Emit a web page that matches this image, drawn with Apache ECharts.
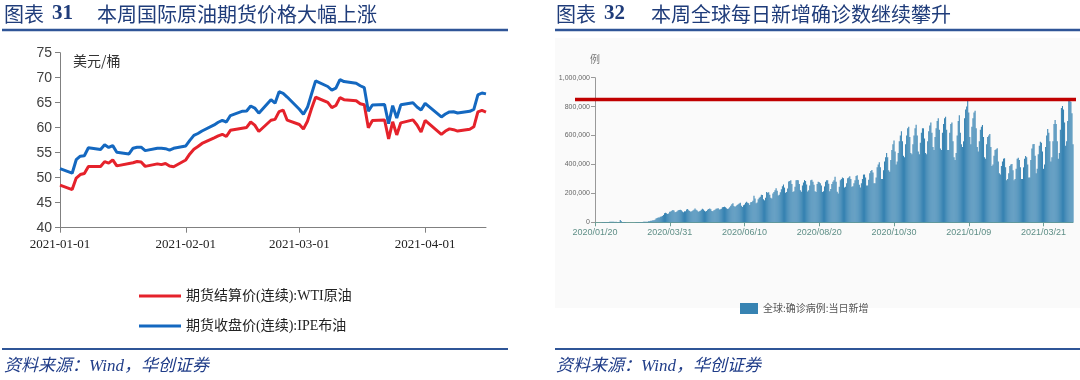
<!DOCTYPE html>
<html><head><meta charset="utf-8">
<script src="https://cdn.jsdelivr.net/npm/echarts@6/dist/echarts.min.js"></script>
<style>html,body{margin:0;padding:0;background:#fff}#c{width:1080px;height:380px}</style>
</head><body><div id="c"></div>
<script>
// ---------- Left chart: oil futures (USD/bbl) ----------
const oilDates = [
 '2021-01-01','2021-01-04','2021-01-05','2021-01-06','2021-01-07','2021-01-08','2021-01-11','2021-01-12','2021-01-13','2021-01-14','2021-01-15','2021-01-18','2021-01-19','2021-01-20','2021-01-21','2021-01-22','2021-01-25','2021-01-26','2021-01-27','2021-01-28','2021-01-29',
 '2021-02-01','2021-02-02','2021-02-03','2021-02-04','2021-02-05','2021-02-08','2021-02-09','2021-02-10','2021-02-11','2021-02-12','2021-02-15','2021-02-16','2021-02-17','2021-02-18','2021-02-19','2021-02-22','2021-02-23','2021-02-24','2021-02-25','2021-02-26',
 '2021-03-01','2021-03-02','2021-03-03','2021-03-04','2021-03-05','2021-03-08','2021-03-09','2021-03-10','2021-03-11','2021-03-12','2021-03-15','2021-03-16','2021-03-17','2021-03-18','2021-03-19','2021-03-22','2021-03-23','2021-03-24','2021-03-25','2021-03-26','2021-03-29','2021-03-30','2021-03-31',
 '2021-04-01','2021-04-05','2021-04-06','2021-04-07','2021-04-08','2021-04-09','2021-04-12','2021-04-13','2021-04-14','2021-04-15','2021-04-16'
];
const wtiSettle = [
 48.52,47.62,49.93,50.63,50.83,52.24,52.25,53.21,52.91,53.57,52.36,null,52.98,53.24,53.13,52.27,52.77,52.61,52.85,52.34,52.20,
 53.55,54.76,55.69,56.23,56.85,57.97,58.36,58.68,58.24,59.47,null,60.05,61.14,60.52,59.24,61.49,61.67,63.22,63.53,61.50,
 60.64,59.75,61.28,63.83,66.09,65.05,64.01,64.44,66.02,65.61,65.39,64.80,64.60,60.00,61.42,61.55,57.76,61.18,58.56,60.97,61.56,60.55,59.16,
 61.45,58.65,59.33,59.77,59.60,59.32,59.70,60.18,63.15,63.46,63.13
];
const brentClose = [
 51.80,50.90,53.60,54.30,54.38,55.99,55.66,56.58,56.06,56.42,55.10,54.75,55.90,56.08,56.10,55.41,55.88,55.91,55.81,55.53,55.88,
 56.35,57.46,58.46,58.84,59.34,60.56,61.09,61.47,61.14,62.43,63.30,63.35,64.34,63.93,62.91,65.60,64.90,67.20,66.88,66.13,
 63.69,62.70,64.07,66.74,69.36,68.24,67.52,67.90,69.63,69.22,68.88,68.39,68.00,63.28,64.53,64.62,60.79,64.41,61.95,64.57,64.98,64.14,63.54,
 64.86,62.15,62.74,63.16,63.20,62.95,63.28,63.67,66.58,66.94,66.77
];
const wtiName = '期货结算价(连续):WTI原油';
const brentName = '期货收盘价(连续):IPE布油';

// ---------- Right chart: global daily new confirmed cases ----------
const covidStart = [2020, 0, 20];   // 2020/01/20, one value per day
const covidDailyThousand = [
 0.08,0.15,0.13,0.26,0.44,0.69,0.77,
 1.8,1.5,2.0,1.7,2.0,2.1,2.6,
 3.2,3.9,3.7,3.2,3.4,2.7,3.0,
 2.5,2.0,2.0,15.1,6.5,2.6,2.1,
 2.0,1.9,0.5,0.6,1.0,0.6,0.6,
 0.6,0.9,0.9,1.2,1.4,1.8,1.9,
 2.0,2.3,2.7,2.9,3.8,4.0,3.9,
 4.0,4.6,6.9,7.5,9.9,11.0,13.5,
 15.0,17.6,25.8,29.0,33.0,32.4,38.9,
 39.9,43.0,50.6,62.9,66.0,62.5,58.0,
 61.2,72.3,74.4,80.0,84.8,80.8,70.1,
 71.5,76.1,82.6,85.6,87.0,84.0,75.0,
 70,76,77,88,92,83,78,
 73,77,82,86,96,86,82,
 73,76,80,87,94,88,80,
 75,79,87,92,96,90,79,
 77,83,87,94,96,97,89,
 90,94,104,106,108,104,98,
 92,96,104,114,124,131,112,
 106,112,120,124,130,135,115,
 105,118,123,136,142,136,131,
 120,139,140,149,183,165,131,
 137,160,170,177,190,188,160,
 152,170,210,204,208,190,170,
 165,200,210,222,236,218,186,
 190,208,228,249,262,240,205,
 210,233,282,285,290,265,210,
 215,245,290,292,290,265,222,
 212,255,275,292,286,262,213,
 222,254,290,295,280,260,215,
 210,265,280,277,270,255,210,
 215,248,280,290,290,267,215,
 230,265,280,290,315,280,212,
 200,245,290,300,310,305,240,
 245,270,305,310,318,300,245,
 250,270,290,320,325,295,260,
 240,270,300,330,330,310,255,
 255,295,340,355,362,345,270,
 270,310,380,400,415,380,300,
 300,360,420,450,480,450,360,
 350,430,500,540,565,490,400,
 420,480,560,600,630,560,460,
 450,540,600,650,660,590,480,
 470,540,600,650,675,600,490,
 470,550,620,650,650,580,480,
 470,560,630,670,690,620,520,
 500,590,650,700,720,640,510,
 500,620,680,720,730,640,500,
 500,620,680,690,560,450,430,
 480,600,700,740,620,540,520,
 560,720,780,800,846,760,590,
 540,660,720,760,772,650,520,
 490,560,640,660,673,590,450,
 440,540,590,600,611,520,390,
 400,460,500,505,512,420,340,
 330,390,420,440,443,380,290,
 300,340,390,400,403,360,290,
 300,370,440,447,430,380,300,
 300,380,440,459,450,400,310,
 310,430,510,540,542,460,340,
 370,470,530,557,550,490,370,
 400,520,600,645,620,560,420,
 450,560,680,707,680,560,440,
 480,640,790,804,780,690,530,
 560,700,845,850,834,754,540
];
const covidName = '全球:确诊病例:当日新增';
const covidRefLevel = 850000;

function pad(n){return (n<10?'0':'')+n;}
const covidDates = covidDailyThousand.map((v,i)=>{
  const d = new Date(Date.UTC(covidStart[0], covidStart[1], covidStart[2]+i));
  return d.getUTCFullYear()+'/'+pad(d.getUTCMonth()+1)+'/'+pad(d.getUTCDate());
});

const NAVY = '#1f3c7a';
const titleFont = '"Noto Sans CJK SC", sans-serif';
function baseGraphics(){
  const g = [];
  g.push({type:'rect', z:-10, silent:true, shape:{x:555,y:38,width:525,height:270}, style:{fill:'#fafafa'}});
  // titles
  g.push({type:'text', x:4, y:14, style:{text:'图表', fill:NAVY, font:'20px '+titleFont, textVerticalAlign:'middle'}});
  g.push({type:'text', x:52, y:14, style:{text:'31', fill:NAVY, font:'bold 21px "Liberation Serif", serif', textVerticalAlign:'middle'}});
  g.push({type:'text', x:97, y:14, style:{text:'本周国际原油期货价格大幅上涨', fill:NAVY, font:'20px '+titleFont, textVerticalAlign:'middle'}});
  g.push({type:'text', x:556, y:14, style:{text:'图表', fill:NAVY, font:'20px '+titleFont, textVerticalAlign:'middle'}});
  g.push({type:'text', x:604, y:14, style:{text:'32', fill:NAVY, font:'bold 21px "Liberation Serif", serif', textVerticalAlign:'middle'}});
  g.push({type:'text', x:651, y:14, style:{text:'本周全球每日新增确诊数继续攀升', fill:NAVY, font:'20px '+titleFont, textVerticalAlign:'middle'}});
  // rules
  g.push({type:'line', shape:{x1:2,y1:30,x2:508,y2:30}, style:{stroke:'#2f5597', lineWidth:2.5}});
  g.push({type:'line', shape:{x1:555,y1:30,x2:1080,y2:30}, style:{stroke:'#2f5597', lineWidth:2.5}});
  g.push({type:'line', shape:{x1:2,y1:349,x2:508,y2:349}, style:{stroke:'#2f5597', lineWidth:2}});
  g.push({type:'line', shape:{x1:555,y1:349,x2:1080,y2:349}, style:{stroke:'#2f5597', lineWidth:2}});
  // sources
  g.push({type:'text', x:4, y:367, style:{text:'资料来源：Wind，华创证券', fill:'#1f3c88', font:'italic 17px "Liberation Serif", "Noto Sans CJK SC", serif', textVerticalAlign:'middle'}});
  g.push({type:'text', x:556, y:367, style:{text:'资料来源：Wind，华创证券', fill:'#1f3c88', font:'italic 17px "Liberation Serif", "Noto Sans CJK SC", serif', textVerticalAlign:'middle'}});
  // unit labels
  g.push({type:'text', x:73, y:61, style:{text:'美元/桶', fill:'#333', font:'14px "Noto Sans CJK SC", sans-serif', textVerticalAlign:'middle'}});
  g.push({type:'text', x:590, y:59, style:{text:'例', fill:'#777', font:'10px "Noto Sans CJK SC", sans-serif', textVerticalAlign:'middle'}});
  return g;
}

const chart = echarts.init(document.getElementById('c'), null, {renderer:'canvas'});
const option = {
  animation:false,
  backgroundColor:'#ffffff',
  grid:[
    {left:60, top:52.7, width:426, height:175},
    {left:595, top:77.7, width:478, height:144.6}
  ],
  legend:[
    {data:[wtiName, brentName], orient:'vertical', left:134, top:284, itemWidth:42, itemHeight:3, itemGap:16, icon:'rect',
     textStyle:{fontSize:14, lineHeight:14, color:'#222', fontFamily:'"Liberation Serif", "Noto Sans CJK SC", serif'}},
    {data:[covidName], left:735, top:298, itemWidth:18, itemHeight:11, icon:'rect',
     textStyle:{fontSize:10, color:'#555', fontFamily:'"Noto Sans CJK SC", sans-serif'}}
  ],
  xAxis:[
    {type:'time', gridIndex:0, min:'2021-01-01', max:'2021-04-16', minInterval:28*86400000,
     axisLine:{lineStyle:{color:'#808080'}}, axisTick:{show:true, length:5, lineStyle:{color:'#808080'}},
     splitLine:{show:false},
     axisLabel:{formatter:'{yyyy}-{MM}-{dd}', showMaxLabel:false, fontSize:13, color:'#222', margin:10, fontFamily:'"Liberation Serif", serif'}},
    {type:'category', gridIndex:1, data:covidDates, boundaryGap:false,
     axisLine:{lineStyle:{color:'#6f9f97'}}, axisTick:{show:true, interval:70, length:4, lineStyle:{color:'#6f9f97'}},
     axisLabel:{interval:70, fontSize:9, color:'#5f8f87', margin:6, fontFamily:'"Liberation Sans", sans-serif'}}
  ],
  yAxis:[
    {type:'value', gridIndex:0, min:40, max:75, interval:5,
     axisLine:{show:true, lineStyle:{color:'#808080'}}, axisTick:{show:true, length:5, lineStyle:{color:'#808080'}},
     splitLine:{show:false},
     axisLabel:{fontSize:14, color:'#404040', margin:8, fontFamily:'"Liberation Sans", sans-serif'}},
    {type:'value', gridIndex:1, min:0, max:1000000, interval:200000,
     axisLine:{show:true, lineStyle:{color:'#999'}}, axisTick:{show:true, length:4, lineStyle:{color:'#999'}},
     splitLine:{show:false},
     axisLabel:{fontSize:7, color:'#666', margin:5, fontFamily:'"Liberation Sans", sans-serif',
       formatter:v=>v.toLocaleString('en-US')}}
  ],
  series:[
    {name:wtiName, type:'line', xAxisIndex:0, yAxisIndex:0, symbol:'none', connectNulls:true,
     data:oilDates.map((d,i)=>[d, wtiSettle[i]]), color:'#e5222b', lineStyle:{width:3, color:'#e5222b'}},
    {name:brentName, type:'line', xAxisIndex:0, yAxisIndex:0, symbol:'none', connectNulls:true,
     data:oilDates.map((d,i)=>[d, brentClose[i]]), color:'#1468c0', lineStyle:{width:3, color:'#1468c0'}},
    {name:covidName, type:'bar', xAxisIndex:1, yAxisIndex:1, barCategoryGap:'0%',
     data:covidDailyThousand.map(v=>Math.round(v*1000)), color:'#3783b2', itemStyle:{color:'#3783b2'}}
  ],
  graphic:{elements:baseGraphics()}
};
chart.setOption(option);
const refY = chart.convertToPixel({xAxisIndex:1, yAxisIndex:1}, [0, covidRefLevel])[1];
const g2 = baseGraphics();
g2.push({type:'line', z:100, shape:{x1:575,y1:refY,x2:1076,y2:refY}, style:{stroke:'#c00000', lineWidth:3.5}});
chart.setOption({graphic:{elements:g2}});
</script>
</body></html>
